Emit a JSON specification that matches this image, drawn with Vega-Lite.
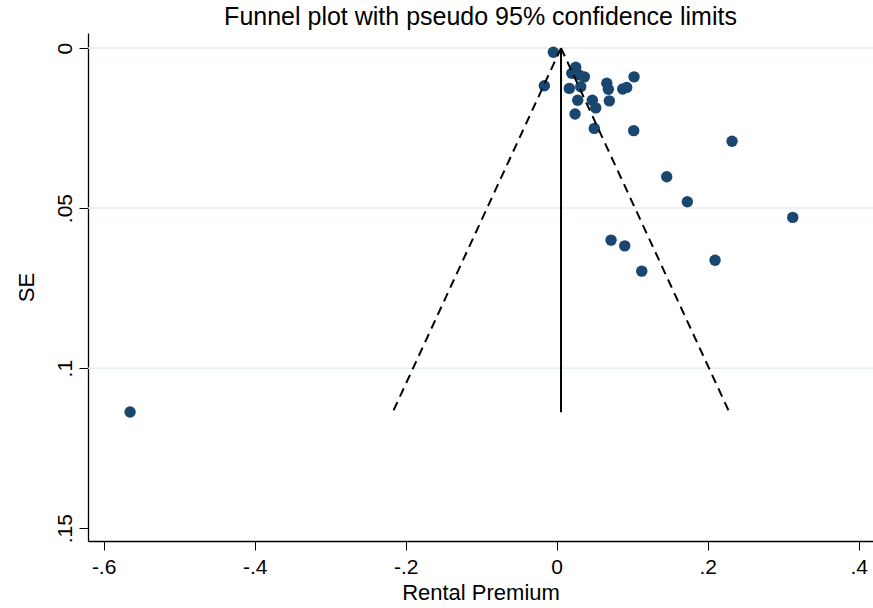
{
  "$schema": "https://vega.github.io/schema/vega-lite/v6.json",
  "autosize": {"type": "none"},
  "padding": {"left": 88, "top": 33, "right": 0, "bottom": 67},
  "width": 785,
  "height": 508,
  "background": "white",
  "title": {
    "text": "Funnel plot with pseudo 95% confidence limits",
    "font": "Liberation Sans",
    "fontSize": 25,
    "fontWeight": "normal",
    "color": "black",
    "anchor": "middle",
    "baseline": "alphabetic",
    "offset": 7,
    "dy": 24
  },
  "datasets": {
    "studies": [
      {"x": -0.0044, "se": 0.0013},
      {"x": -0.0163, "se": 0.0118},
      {"x": 0.0253, "se": 0.0060},
      {"x": 0.0200, "se": 0.0079},
      {"x": 0.0367, "se": 0.0090},
      {"x": 0.0297, "se": 0.0084},
      {"x": 0.0168, "se": 0.0126},
      {"x": 0.0319, "se": 0.0121},
      {"x": 0.0279, "se": 0.0163},
      {"x": 0.0244, "se": 0.0206},
      {"x": 0.0473, "se": 0.0163},
      {"x": 0.0518, "se": 0.0187},
      {"x": 0.0499, "se": 0.0251},
      {"x": 0.0664, "se": 0.0110},
      {"x": 0.0685, "se": 0.0129},
      {"x": 0.0698, "se": 0.0165},
      {"x": 0.0875, "se": 0.0128},
      {"x": 0.0928, "se": 0.0123},
      {"x": 0.1025, "se": 0.0090},
      {"x": 0.1021, "se": 0.0258},
      {"x": 0.1458, "se": 0.0402},
      {"x": 0.1731, "se": 0.0480},
      {"x": 0.3127, "se": 0.0529},
      {"x": 0.0721, "se": 0.0600},
      {"x": 0.0902, "se": 0.0618},
      {"x": 0.1127, "se": 0.0697},
      {"x": 0.2098, "se": 0.0663},
      {"x": 0.2323, "se": 0.0291},
      {"x": -0.5650, "se": 0.1137}
    ],
    "limits": [
      {"side": "lower", "x": 0.0058, "se": 0},
      {"side": "lower", "x": -0.2172, "se": 0.1138},
      {"side": "upper", "x": 0.0058, "se": 0},
      {"side": "upper", "x": 0.2288, "se": 0.1138}
    ],
    "pooled": [
      {"x": 0.0058, "se": 0, "se2": 0.1138}
    ],
    "grid": [
      {"se": 0},
      {"se": 0.05},
      {"se": 0.1}
    ]
  },
  "layer": [
    {
      "data": {"name": "grid"},
      "mark": {"type": "rule", "color": "#e6eef1", "strokeWidth": 1.5},
      "encoding": {
        "y": {"field": "se", "type": "quantitative", "title": "SE"}
      }
    },
    {
      "data": {"name": "studies"},
      "mark": {"type": "circle", "color": "#1a476f", "opacity": 1, "size": 130},
      "encoding": {
        "x": {
          "field": "x",
          "type": "quantitative",
          "title": "Rental Premium",
          "scale": {"domain": [-0.6207, 0.419], "nice": false, "zero": false},
          "axis": {"values": [-0.6, -0.4, -0.2, 0, 0.2, 0.4]}
        },
        "y": {
          "field": "se",
          "type": "quantitative",
          "title": "SE",
          "scale": {"domain": [-0.0047, 0.154], "nice": false, "zero": false, "reverse": true},
          "axis": {"values": [0, 0.05, 0.1, 0.15]}
        }
      }
    },
    {
      "data": {"name": "limits"},
      "mark": {"type": "line", "color": "black", "strokeWidth": 2, "strokeDash": [9, 6]},
      "encoding": {
        "x": {"field": "x", "type": "quantitative", "title": "Rental Premium"},
        "y": {"field": "se", "type": "quantitative", "title": "SE"},
        "detail": {"field": "side"},
        "order": {"field": "se", "type": "quantitative"}
      }
    },
    {
      "data": {"name": "pooled"},
      "mark": {"type": "rule", "color": "black", "strokeWidth": 2},
      "encoding": {
        "x": {"field": "x", "type": "quantitative", "title": "Rental Premium"},
        "y": {"field": "se", "type": "quantitative", "title": "SE"},
        "y2": {"field": "se2"}
      }
    }
  ],
  "config": {
    "view": {"stroke": null},
    "font": "Liberation Sans",
    "axis": {
      "grid": false,
      "domainColor": "black",
      "domainWidth": 1.3,
      "tickColor": "black",
      "tickWidth": 1,
      "labelFont": "Liberation Sans",
      "labelColor": "black",
      "titleFont": "Liberation Sans",
      "titleColor": "black",
      "titleFontWeight": "normal",
      "labelExpr": "replace(toString(datum.value), '0.', '.')"
    },
    "axisX": {
      "tickSize": 9,
      "labelFontSize": 21,
      "labelPadding": 6,
      "labelBaseline": "top",
      "titleFontSize": 22,
      "titleBaseline": "alphabetic",
      "titleY": 58
    },
    "axisY": {
      "tickSize": 9,
      "labelFontSize": 21,
      "labelAngle": 270,
      "labelAlign": "center",
      "labelBaseline": "bottom",
      "labelPadding": 4,
      "titleFontSize": 22,
      "titleAngle": 270,
      "titleAlign": "center",
      "titleBaseline": "alphabetic",
      "titleX": -55,
      "titleY": 254
    }
  }
}
